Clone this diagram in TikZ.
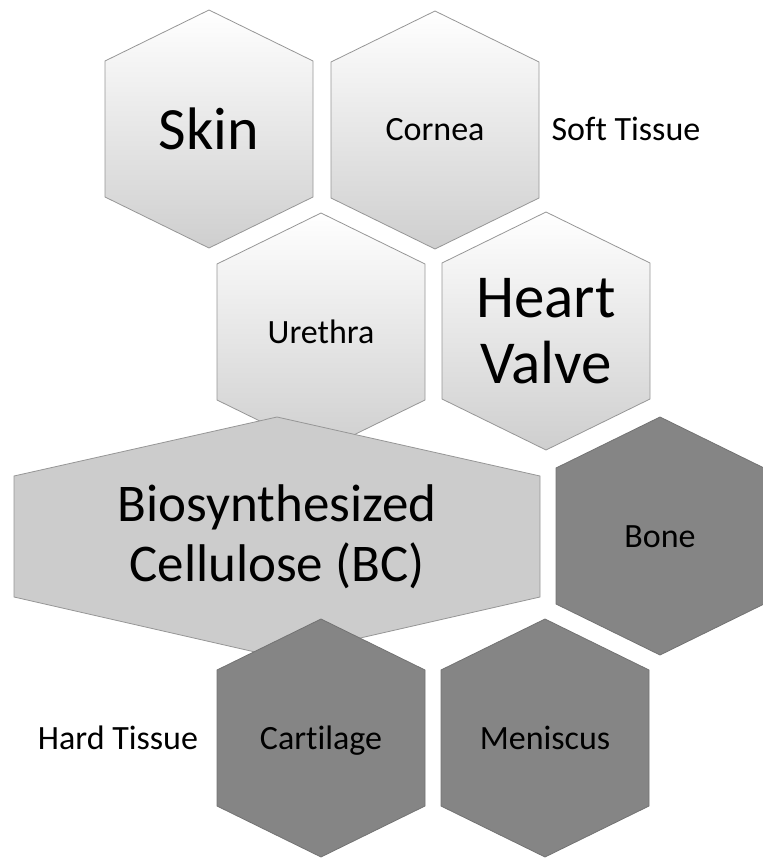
\documentclass[tikz,border=0pt]{standalone}
\usepackage{fontspec}
\setmainfont{Carlito}[Ligatures=NoCommon]
\usetikzlibrary{positioning}
\definecolor{HexEdge}{RGB}{150,150,150}
\definecolor{HexCore}{RGB}{204,204,204}
\definecolor{HexDark}{RGB}{133,133,133}
\tikzset{
  lighthex/.style={draw=HexEdge, line width=0.8pt, top color=white, bottom color=black!19},
  corehex/.style={draw=HexEdge, line width=0.8pt, fill=HexCore},
  darkhex/.style={draw=black!55, line width=0.8pt, fill=HexDark},
  hexlabel/.style={align=center, inner sep=0pt},
  sidelabel/.style={inner sep=0pt, anchor=base, font=\fontsize{34}{40}\selectfont}
}

\begin{document}
\begin{tikzpicture}[x=1pt, y=-1pt]
  \useasboundingbox (0,0) rectangle (762,858);
  % soft tissue cells
  \foreach \n/\x/\y/\s/\l/\t in
    {skin/209/129/60/66/Skin, cornea/435/130/34/40/Cornea,
     urethra/321/332/34/40/Urethra, heart/546/331/61/66/{Heart\\Valve}}
  {
    \draw[lighthex] (\x,\y-119) -- (\x+104,\y-68) -- (\x+104,\y+68) -- (\x,\y+119)
      -- (\x-104,\y+68) -- (\x-104,\y-68) -- cycle;
    \node[hexlabel, font=\fontsize{\s}{\l}\selectfont] (\n) at (\x,\y) {\t};
  }
  % centre cell
  \draw[corehex] (277,417) -- (540,476) -- (540,597) -- (277,657)
    -- (14,597) -- (14,476) -- cycle;
  \node[hexlabel, font=\fontsize{53}{60}\selectfont] (bc) at (277,537)
    {Biosynthesized\\Cellulose (BC)};
  % hard tissue cells
  \foreach \n/\x/\y/\t in
    {bone/660/536/Bone, cartilage/321/738/Cartilage, meniscus/545/738/Meniscus}
  {
    \draw[darkhex] (\x,\y-119) -- (\x+104,\y-68) -- (\x+104,\y+68) -- (\x,\y+119)
      -- (\x-104,\y+68) -- (\x-104,\y-68) -- cycle;
    \node[hexlabel, anchor=base, font=\fontsize{34}{40}\selectfont] (\n) at (\x,\y+11) {\t};
  }
  \node[sidelabel] (soft) at (626,141) {Soft Tissue};
  \node[sidelabel] (hard) at (118,749) {Hard Tissue};
\end{tikzpicture}
\end{document}
